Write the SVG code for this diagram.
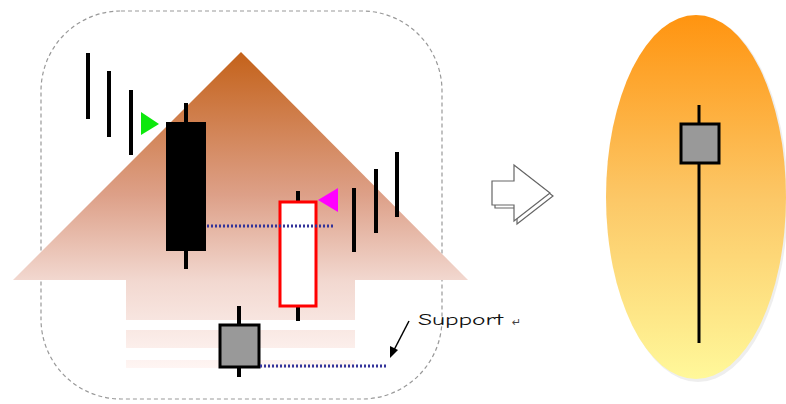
<svg xmlns="http://www.w3.org/2000/svg" width="786" height="404" viewBox="0 0 786 404">
<defs>
<linearGradient id="arrowG" x1="0" y1="52" x2="0" y2="370" gradientUnits="userSpaceOnUse">
<stop offset="0" stop-color="#C4621A"/>
<stop offset="0.45" stop-color="#DDA088"/>
<stop offset="0.72" stop-color="#F2D8D0"/>
<stop offset="1" stop-color="#FFF6F4"/>
</linearGradient>
<linearGradient id="ovalG" x1="0" y1="0" x2="0" y2="1">
<stop offset="0" stop-color="#FF9410"/>
<stop offset="0.5" stop-color="#FCC766"/>
<stop offset="1" stop-color="#FFF89A"/>
</linearGradient>
<style>
.wick{stroke:#000;stroke-width:4;fill:none}
.thin{stroke:#000;stroke-width:3;fill:none}
.dot{stroke:#33339A;stroke-width:3;stroke-dasharray:2 2;fill:none}
.box{fill:#999;stroke:#000;stroke-width:3}
.hollow{fill:#fff;stroke:#666;stroke-width:1.2}
</style>
</defs>
<rect width="786" height="404" fill="#fff"/>
<g id="frame">
<rect x="41" y="11" width="401" height="388" rx="80" ry="80" fill="none" stroke="#999" stroke-width="1.2" stroke-dasharray="4 3"/>
</g>
<g id="up-arrow">
<polygon points="241,52 468,280 13,280" fill="url(#arrowG)"/>
<rect x="126" y="280" width="229" height="40" fill="url(#arrowG)"/>
<rect x="126" y="330" width="229" height="18" fill="url(#arrowG)"/>
<rect x="126" y="360" width="229" height="8" fill="url(#arrowG)"/>
</g>
<g id="candles-left">
<line class="wick" x1="88" y1="53" x2="88" y2="119"/>
<line class="wick" x1="109" y1="71" x2="109" y2="137"/>
<line class="wick" x1="131" y1="90" x2="131" y2="155"/>
<polygon points="141,112 141,135 159,124" fill="#0DE80D"/>
</g>
<g id="black-candle">
<line class="wick" x1="186" y1="103" x2="186" y2="269"/>
<rect x="166" y="122" width="40" height="129" fill="#000"/>
</g>
<g id="red-candle">
<line class="wick" x1="298" y1="191" x2="298" y2="321"/>
<rect x="280" y="202" width="36" height="104" fill="#fff" stroke="#F00" stroke-width="3"/>
<polygon points="318,200 338,188 338,212" fill="#F0F"/>
</g>
<g id="candles-right">
<line class="wick" x1="354" y1="188" x2="354" y2="252"/>
<line class="wick" x1="376" y1="169" x2="376" y2="233"/>
<line class="wick" x1="397" y1="152" x2="397" y2="217"/>
</g>
<g id="gray-candle">
<line class="wick" x1="239" y1="306" x2="239" y2="377"/>
<rect class="box" x="220" y="325" width="39" height="42"/>
</g>
<g id="connectors">
<line class="dot" x1="207" y1="226" x2="333" y2="226"/>
<line class="dot" x1="260" y1="366" x2="387" y2="366"/>
<line x1="409" y1="321" x2="394" y2="350" stroke="#000" stroke-width="1.5"/>
<polygon points="390,358 390,346 398,350" fill="#000"/>
</g>
<g id="support-label">
<text x="418" y="325" font-family="'Comic Neue','DejaVu Sans',sans-serif" font-size="16" fill="#111" textLength="85" lengthAdjust="spacingAndGlyphs">Support</text>
<text x="512" y="326" font-family="'DejaVu Sans',sans-serif" font-size="11" fill="#444">↵</text>
</g>
<g id="hollow-arrow">
<polygon class="hollow" points="495,184 517,184 517,168 553,196 517,224 517,208 495,208" stroke="#aaa"/>
<polygon class="hollow" points="492,181 514,181 514,165 550,193 514,221 514,205 492,205" fill="none"/>
</g>
<g id="oval">
<ellipse cx="698" cy="199" rx="90" ry="183" fill="#ddd" opacity="0.5"/>
<ellipse cx="696" cy="197" rx="90" ry="182" fill="url(#ovalG)"/>
<line class="thin" x1="699" y1="105" x2="699" y2="343"/>
<rect class="box" x="681" y="124" width="38" height="39"/>
</g>
</svg>
